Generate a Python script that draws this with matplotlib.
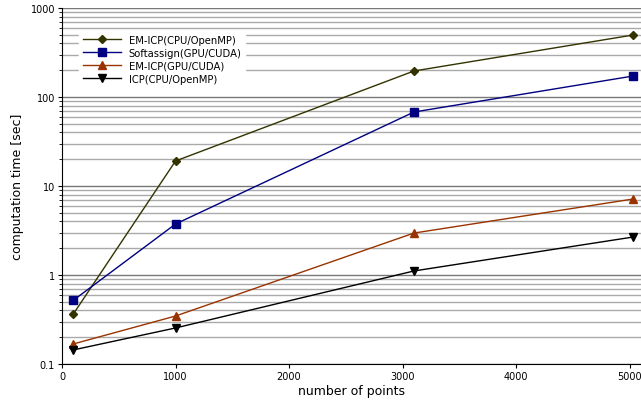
import numpy as np
import matplotlib
matplotlib.use('Agg')
import matplotlib.pyplot as plt
from matplotlib.ticker import LogLocator, FixedLocator, NullFormatter, FuncFormatter

points = [100, 1000, 3100, 5030]
em_icp_cpu = [0.365, 19.1, 196, 497]
softassign_gpu = [0.52, 3.74, 67.8, 172]
em_icp_gpu = [0.168, 0.346, 2.96, 7.14]
icp_cpu = [0.144, 0.254, 1.11, 2.67]

labels = ['EM-ICP(CPU/OpenMP)', 'Softassign(GPU/CUDA)',
          'EM-ICP(GPU/CUDA)', 'ICP(CPU/OpenMP)']
x_ticks = [0, 1000, 2000, 3000, 4000, 5000]

plt.rcParams['font.family'] = 'DejaVu Sans'
fig = plt.figure(figsize=(6.41, 4.02), dpi=100)
ax = fig.add_axes([62 / 641, 1 - 365 / 402, (641 - 62) / 641, (365 - 9) / 402])

ax.plot(points, em_icp_cpu, color='#333300', marker='D', markersize=4,
        lw=1, label=labels[0])
ax.plot(points, softassign_gpu, color='#000080', marker='s', markersize=5.5,
        lw=1, label=labels[1])
ax.plot(points, em_icp_gpu, color='#993300', marker='^', markersize=6,
        lw=1, label=labels[2])
ax.plot(points, icp_cpu, color='black', marker='v', markersize=6,
        lw=1, label=labels[3])

ax.set_yscale('log')
ax.set_ylim(0.1, 1000)
ax.set_xlim(0, 5100)
ax.xaxis.set_major_locator(FixedLocator(x_ticks))
ax.yaxis.set_major_locator(LogLocator(base=10))
ax.yaxis.set_minor_locator(LogLocator(base=10, subs=np.arange(2, 10)))
ax.yaxis.set_minor_formatter(NullFormatter())
ax.yaxis.set_major_formatter(FuncFormatter(lambda v, p: ('%g' % v)))

ax.grid(True, which='major', axis='y', color='#777777', lw=1)
ax.grid(True, which='minor', axis='y', color='#aaaaaa', lw=1)
ax.set_axisbelow(True)

for s in ['top', 'right']:
    ax.spines[s].set_visible(False)
ax.tick_params(labelsize=7, length=3, pad=2, direction='out')
ax.tick_params(which='minor', length=2)

ax.set_xlabel('number of points', fontsize=9, labelpad=2)
ax.set_ylabel('computation time [sec]', fontsize=9, labelpad=5)

leg = ax.legend(loc='upper left', bbox_to_anchor=(0.02, 0.95), fontsize=7.2,
                frameon=True, fancybox=False, handlelength=3.8,
                labelspacing=0.3, borderpad=0.4)
leg.get_frame().set_edgecolor('white')
leg.get_frame().set_facecolor('white')
leg.get_frame().set_alpha(1)

fig.savefig('out.png', dpi=100)
